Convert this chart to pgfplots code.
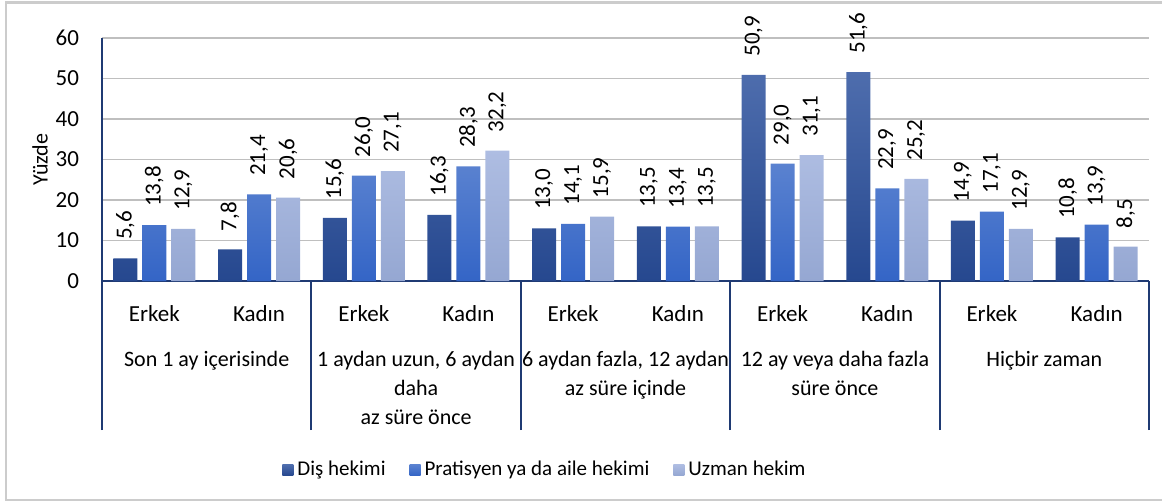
\documentclass[border=0pt]{standalone}
\usepackage{fontspec}
\setmainfont{Carlito}
\usepackage{pgfplots}
\pgfplotsset{compat=1.18}
\definecolor{navy}{HTML}{1F3A73}
\definecolor{cAt}{HTML}{4E6DAD}
\definecolor{cAb}{HTML}{26488F}
\definecolor{cBt}{HTML}{5A82D0}
\definecolor{cBb}{HTML}{3465C6}
\definecolor{cCt}{HTML}{AEBDE2}
\definecolor{cCb}{HTML}{95A7D2}
\definecolor{gridc}{HTML}{BFBFBF}
\begin{document}
\begin{tikzpicture}
\begin{axis}[
  scale only axis, width=523.5pt, height=121.5pt,
  xmin=-0.5, xmax=9.5, ymin=0, ymax=60,
  ybar=2.5pt, bar width=12pt,
  axis lines*=left,
  axis line style={draw=navy, line width=1pt},
  ytick={0,10,...,60},
  ymajorgrids, grid style={gridc, line width=0.6pt},
  xtick={0,...,9},
  xticklabels={Erkek,Kadın,Erkek,Kadın,Erkek,Kadın,Erkek,Kadın,Erkek,Kadın},
  major tick length=0pt,
  extra x ticks={-0.5,1.5,3.5,5.5,7.5,9.5},
  extra x tick labels={},
  extra x tick style={major tick length=74.5pt, tick align=outside, major tick style={draw=navy, line width=1pt}},
  tick label style={font=\fontsize{11.5}{13}\selectfont},
  /pgf/number format/assume math mode=true,
  yticklabel style={xshift=-8pt},
  xticklabel style={anchor=base, yshift=-20pt},
  ylabel={Yüzde},
  ylabel style={at={(rel axis cs:-0.0592,0.5)}, anchor=center, font=\fontsize{11}{13}\selectfont},
  nodes near coords={\pgfmathprintnumber[fixed,fixed zerofill,precision=1,use comma,assume math mode=true]{\pgfplotspointmeta}},
  nodes near coords style={rotate=90, anchor=west, inner xsep=9pt, inner ysep=0pt, font=\fontsize{11.5}{13}\selectfont, text=black},
  legend style={draw=none, legend columns=-1, at={(rel axis cs:0.424,-0.778)}, anchor=center,
    font=\fontsize{10.5}{13}\selectfont,
    /tikz/every even column/.append style={column sep=10pt}},
  legend image code/.code={\fill[#1] (0pt,-2.7pt) rectangle (5.5pt,2.7pt);},
  clip=false,
]
\addplot[draw=none, top color=cAt, bottom color=cAb] coordinates {
 (0,5.6) (1,7.8) (2,15.6) (3,16.3) (4,13.0) (5,13.5) (6,50.9) (7,51.6) (8,14.9) (9,10.8)};
\addlegendentry{Diş hekimi}
\addplot[draw=none, top color=cBt, bottom color=cBb] coordinates {
 (0,13.8) (1,21.4) (2,26.0) (3,28.3) (4,14.1) (5,13.4) (6,29.0) (7,22.9) (8,17.1) (9,13.9)};
\addlegendentry{Pratisyen ya da aile hekimi}
\addplot[draw=none, top color=cCt, bottom color=cCb] coordinates {
 (0,12.9) (1,20.6) (2,27.1) (3,32.2) (4,15.9) (5,13.5) (6,31.1) (7,25.2) (8,12.9) (9,8.5)};
\addlegendentry{Uzman hekim}
\begin{scope}[every node/.style={align=center, anchor=north, inner sep=0pt, yshift=-35pt, font=\fontsize{11}{14.5}\selectfont}]
\node at (axis cs:0.5,0) {Son 1 ay içerisinde};
\node at (axis cs:2.5,0) {1 aydan uzun, 6 aydan\\daha\\az süre önce};
\node at (axis cs:4.5,0) {6 aydan fazla, 12 aydan\\az süre içinde};
\node at (axis cs:6.5,0) {12 ay veya daha fazla\\süre önce};
\node at (axis cs:8.5,0) {Hiçbir zaman};
\end{scope}
\coordinate (O) at (rel axis cs:0,0);
\end{axis}
\pgfresetboundingbox
\useasboundingbox ([xshift=-51pt,yshift=-111pt]O) rectangle ([xshift=530pt,yshift=140.5pt]O);
\draw[gray!40, line width=1.2pt] ([xshift=530pt,yshift=139.25pt]O) -- ([xshift=-48pt,yshift=139.25pt]O)
  -- ([xshift=-48pt,yshift=-109.5pt]O) -- ([xshift=530pt,yshift=-109.5pt]O);
\end{tikzpicture}
\end{document}
